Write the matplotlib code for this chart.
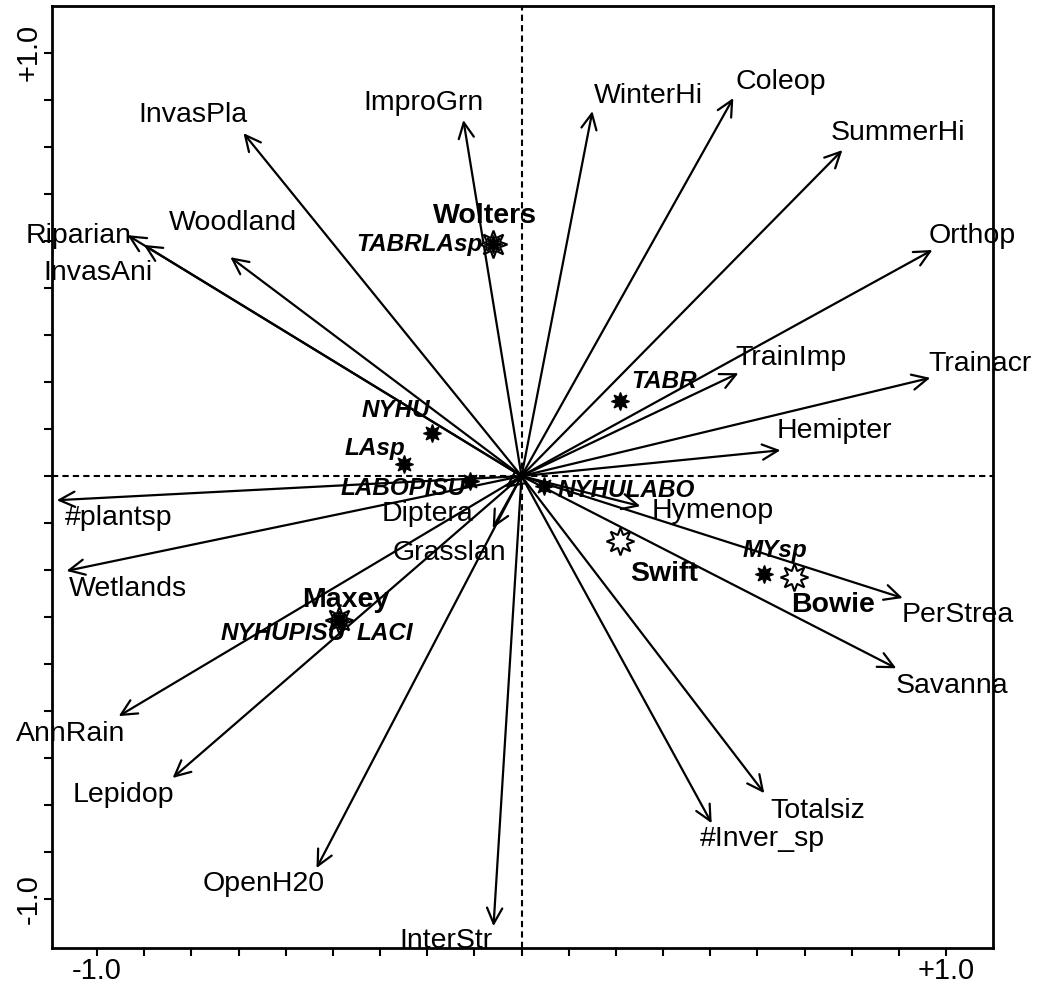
import matplotlib
matplotlib.use("Agg")
import matplotlib.pyplot as plt
import numpy as np

plt.rcParams['font.family'] = ['Liberation Sans', 'DejaVu Sans']

# environmental variables: arrow tips and label centres
env_names = ["InvasPla", "ImproGrn", "WinterHi", "Coleop", "SummerHi", "Orthop",
             "Trainacr", "TrainImp", "Hemipter", "Hymenop", "PerStrea", "Savanna",
             "Totalsiz", "#Inver_sp", "InterStr", "OpenH20", "Lepidop", "AnnRain",
             "Wetlands", "#plantsp", "Grasslan", "Diptera", "Riparian", "InvasAni",
             "Woodland"]
env_x = [-0.655, -0.137, 0.167, 0.499, 0.756, 0.968, 0.963, 0.511, 0.610, 0.280,
         0.898, 0.883, 0.572, 0.448, -0.066, -0.483, -0.822, -0.949, -1.072, -1.095,
         -0.068, -0.038, -0.928, -0.890, -0.686]
env_y = [0.810, 0.841, 0.862, 0.893, 0.770, 0.534, 0.232, 0.243, 0.061, -0.071,
         -0.288, -0.454, -0.749, -0.820, -1.063, -0.926, -0.713, -0.567, -0.224, -0.057,
         -0.123, -0.028, 0.569, 0.546, 0.517]
env_lx = [-0.773, -0.231, 0.299, 0.610, 0.886, 1.062, 1.081, 0.634, 0.737, 0.450,
          1.027, 1.015, 0.697, 0.568, -0.179, -0.608, -0.938, -1.062, -0.928, -0.949,
          -0.170, -0.221, -1.044, -0.999, -0.681]
env_ly = [0.853, 0.881, 0.898, 0.931, 0.810, 0.567, 0.265, 0.279, 0.106, -0.083,
          -0.328, -0.496, -0.791, -0.858, -1.098, -0.964, -0.754, -0.609, -0.267, -0.099,
          -0.182, -0.090, 0.567, 0.480, 0.598]

# species scores
sp_names = ["TABRLAsp", "TABR", "NYHU", "LAsp", "LABOPISU", "NYHULABO", "MYsp",
            "NYHUPISU", "LACI"]
sp_x = [-0.068, 0.233, -0.210, -0.278, -0.122, 0.052, 0.572, -0.431, -0.431]
sp_y = [0.548, 0.177, 0.102, 0.028, -0.012, -0.024, -0.232, -0.340, -0.340]
sp_lx = [-0.092, 0.259, -0.214, -0.273, -0.132, 0.085, 0.598, -0.415, -0.389]
sp_ly = [0.546, 0.224, 0.154, 0.064, -0.030, -0.033, -0.175, -0.371, -0.371]
sp_ha = ["right", "left", "right", "right", "right", "left", "center", "right", "left"]

# sites
site_names = ["Wolters", "Swift", "Bowie", "Maxey"]
site_x = [-0.068, 0.231, 0.643, -0.431]
site_y = [0.548, -0.154, -0.239, -0.340]
site_lx = [-0.085, 0.337, 0.733, -0.415]
site_ly = [0.614, -0.232, -0.305, -0.293]

fig = plt.figure(figsize=(10.41, 9.86), dpi=100)
ax = fig.add_axes([0.05, 0.0388, 0.904, 0.955])

ax.axhline(0, color='black', lw=1.5, ls=(0, (3, 2)), zorder=1)
ax.axvline(0, color='black', lw=1.5, ls=(0, (3, 2)), zorder=1)

for name, x, y, lx, ly in zip(env_names, env_x, env_y, env_lx, env_ly):
    ax.annotate('', xy=(x, y), xytext=(0, 0),
                arrowprops=dict(arrowstyle='->,head_length=0.45,head_width=0.22',
                                lw=1.6, color='black', shrinkA=0, shrinkB=0,
                                mutation_scale=25), zorder=2)
    ax.text(lx, ly, name, fontsize=20.5, ha='center', va='center', zorder=4)

ax.plot(site_x, site_y, ls='none', marker=(8, 1, 0), markersize=20,
        markerfacecolor='white', markeredgecolor='black', markeredgewidth=1.5, zorder=3)
for name, lx, ly in zip(site_names, site_lx, site_ly):
    ax.text(lx, ly, name, fontsize=20.5, fontweight='bold', ha='center', va='center', zorder=4)

ax.plot(sp_x, sp_y, ls='none', marker=(8, 1, 0), markersize=13,
        markerfacecolor='black', markeredgecolor='black', zorder=3)
for name, lx, ly, ha in zip(sp_names, sp_lx, sp_ly, sp_ha):
    ax.text(lx, ly, name, fontsize=17.5, fontweight='bold', fontstyle='italic',
            ha=ha, va='center', zorder=4)

ax.set_xlim(-1.106, 1.111)
ax.set_ylim(-1.114, 1.110)
ticks = np.linspace(-1, 1, 19)
tick_labels = [''] * 19
tick_labels[0] = '-1.0'
tick_labels[-1] = '+1.0'
ax.set_xticks(ticks)
ax.set_xticklabels(tick_labels, fontsize=21)
ax.set_yticks(ticks)
ax.set_yticklabels(tick_labels, fontsize=21, rotation=90, va='center')
ax.tick_params(direction='out', length=6, width=1.5, pad=1)
for s in ax.spines.values():
    s.set_linewidth(2)

fig.savefig("out.png", dpi=100)
